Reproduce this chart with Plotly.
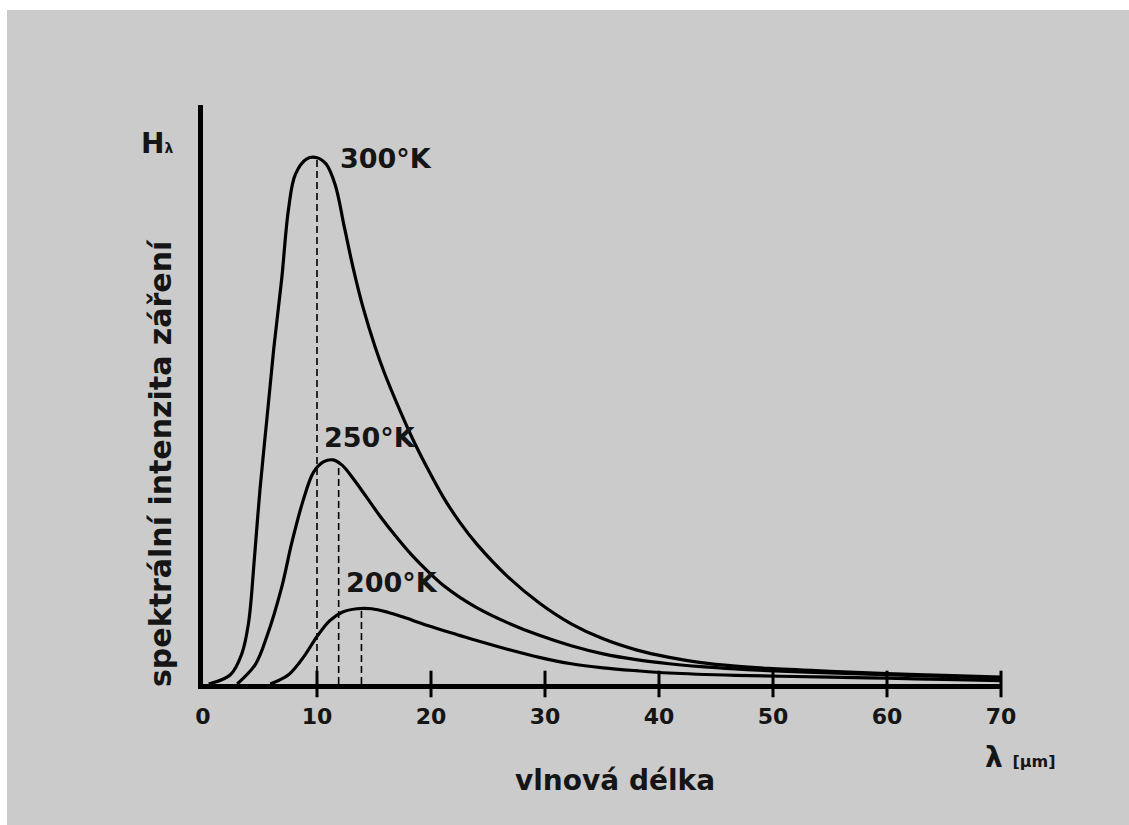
import plotly.graph_objects as go

# ---- data ----
x300 = [0.5, 2.4, 3.4, 4.0, 4.5, 5.0, 5.6, 6.2, 6.9, 7.5, 8.1, 9.1, 10.0, 10.8, 11.6, 12.4, 13.2, 14.0, 15.1, 15.9,
        17.0, 18.3, 19.7, 21.1, 22.5, 24.0, 26.7, 29.5, 32.3, 35.1, 38.0, 40.9, 43.7, 46.7, 49.6, 55, 60, 65, 70]
y300 = [0, 1.6, 5.2, 10.6, 21.5, 33.6, 45.7, 57.8, 69.9, 82.0, 88.0, 90.7, 90.9, 89.8, 86.2, 78.9, 71.6, 65.3, 58.2, 53.8,
        48.5, 42.7, 37.2, 32.2, 28.0, 24.2, 18.6, 14.0, 10.4, 7.8, 5.9, 4.6, 3.7, 3.1, 2.7, 2.2, 1.8, 1.5, 1.2]

x250 = [3.0, 4.6, 5.6, 6.9, 7.8, 8.8, 9.7, 10.6, 11.4, 12.2, 13.2, 14.3, 15.6, 17.0, 18.3, 19.7, 21.1, 22.5, 24.0,
        26.7, 29.5, 32.3, 35.1, 38.0, 40.9, 43.7, 46.7, 49.6, 55, 60, 65, 70]
y250 = [0, 3.4, 8.2, 16.7, 24.5, 31.8, 36.6, 38.4, 38.7, 37.8, 35.4, 32.4, 28.8, 25.3, 22.3, 19.5, 17.0, 15.0, 13.2,
        10.6, 8.4, 6.6, 5.2, 4.2, 3.5, 3.0, 2.6, 2.3, 1.9, 1.6, 1.3, 1.0]

x200 = [5.9, 7.5, 8.8, 10.0, 11.1, 12.2, 13.5, 14.8, 16.2, 17.5, 19.7, 22.5, 24.0, 26.7, 29.5, 32.3, 35.1, 38.0,
        40.9, 46.7, 55, 60, 65, 70]
y200 = [0, 1.6, 4.6, 8.2, 10.9, 12.4, 13.0, 13.0, 12.4, 11.6, 10.1, 8.4, 7.5, 6.0, 4.6, 3.5, 2.8, 2.3,
        1.9, 1.5, 1.2, 1.0, 0.8, 0.6]

peak_x = [10.0, 11.9, 13.9]
peak_y = [90.9, 38.5, 12.9]
labels = ["300°K", "250°K", "200°K"]
label_x = [11.8, 10.4, 12.4]
label_y = [90.8, 42.5, 17.6]

tick_vals = [0, 10, 20, 30, 40, 50, 60, 70]
tick_text = ["0", "10", "20", "30", "40", "50", "60", "70"]

FONT = "DejaVu Sans"
GRAY = "#cbcbcb"
TXT = "#151515"

fig = go.Figure()

# dashed peak markers
for px, py in zip(peak_x, peak_y):
    fig.add_trace(go.Scatter(x=[px, px], y=[0, py], mode="lines",
                             line=dict(color="black", width=1.6, dash="7px,4px"),
                             hoverinfo="skip", showlegend=False))

for xs, ys in [(x300, y300), (x250, y250), (x200, y200)]:
    fig.add_trace(go.Scatter(x=xs, y=ys, mode="lines",
                             line=dict(color="black", width=3.2, shape="spline", smoothing=1.0),
                             showlegend=False, cliponaxis=False))

# crossing tick marks on x axis
fig.add_trace(go.Scatter(x=tick_vals[1:], y=[0] * (len(tick_vals) - 1), mode="markers",
                         marker=dict(symbol="line-ns", size=19, line=dict(color="black", width=3)),
                         cliponaxis=False, hoverinfo="skip", showlegend=False))

for t, lx, ly in zip(labels, label_x, label_y):
    fig.add_annotation(x=lx, y=ly, text=t, showarrow=False, xanchor="left", yanchor="middle",
                       font=dict(family=FONT, size=27, color=TXT, weight="bold"))

W, H = 1129, 825
L, R, T, B = 203, 128, 105, 141
pw, ph = W - L - R, H - T - B

def px2paper_x(p):
    return (p - L) / pw

def px2paper_y(p):
    return (H - B - p) / ph

# axis titles
fig.add_annotation(xref="paper", yref="paper", x=px2paper_x(160), y=px2paper_y(463),
                   text="spektrální intenzita záření", textangle=-90, showarrow=False,
                   xanchor="center", yanchor="middle",
                   font=dict(family=FONT, size=30, color=TXT, weight="bold"))
fig.add_annotation(xref="paper", yref="paper", x=px2paper_x(615), y=px2paper_y(780),
                   text="vlnová délka", showarrow=False, xanchor="center", yanchor="middle",
                   font=dict(family=FONT, size=28, color=TXT, weight="bold"))
fig.add_annotation(xref="paper", yref="paper", x=px2paper_x(139), y=px2paper_y(143),
                   text="H<span style='font-size:14px'>λ</span>", showarrow=False,
                   xanchor="left", yanchor="middle",
                   font=dict(family=FONT, size=28, color=TXT, weight="bold"))
fig.add_annotation(xref="paper", yref="paper", x=px2paper_x(983), y=px2paper_y(757),
                   text="λ <span style='font-size:16px'>[μm]</span>", showarrow=False,
                   xanchor="left", yanchor="middle",
                   font=dict(family=FONT, size=28, color=TXT, weight="bold"))

# white border strips (top and left)
fig.add_shape(type="rect", xref="paper", yref="paper", layer="above",
              x0=px2paper_x(-5), x1=px2paper_x(7), y0=px2paper_y(H + 5), y1=px2paper_y(-5),
              fillcolor="white", line=dict(width=0))
fig.add_shape(type="rect", xref="paper", yref="paper", layer="above",
              x0=px2paper_x(-5), x1=px2paper_x(W + 5), y0=px2paper_y(10), y1=px2paper_y(-5),
              fillcolor="white", line=dict(width=0))

fig.update_layout(
    width=W, height=H,
    margin=dict(l=L, r=R, t=T, b=B, pad=0),
    paper_bgcolor=GRAY, plot_bgcolor=GRAY,
    xaxis=dict(range=[0, 70], tickvals=tick_vals, ticktext=tick_text, showgrid=False, zeroline=False,
               showline=True, linecolor="black", linewidth=5, ticks="outside", ticklen=9,
               tickcolor="rgba(0,0,0,0)",
               tickfont=dict(family=FONT, size=22, color=TXT, weight="bold"),
               fixedrange=True),
    yaxis=dict(range=[0, 100], showgrid=False, zeroline=False, showticklabels=False,
               showline=True, linecolor="black", linewidth=5, ticks="", fixedrange=True),
    showlegend=False,
)

fig.write_html("out.html", config={"displayModeBar": False},
               post_script="document.body.style.margin='0';document.body.style.overflow='hidden';")
